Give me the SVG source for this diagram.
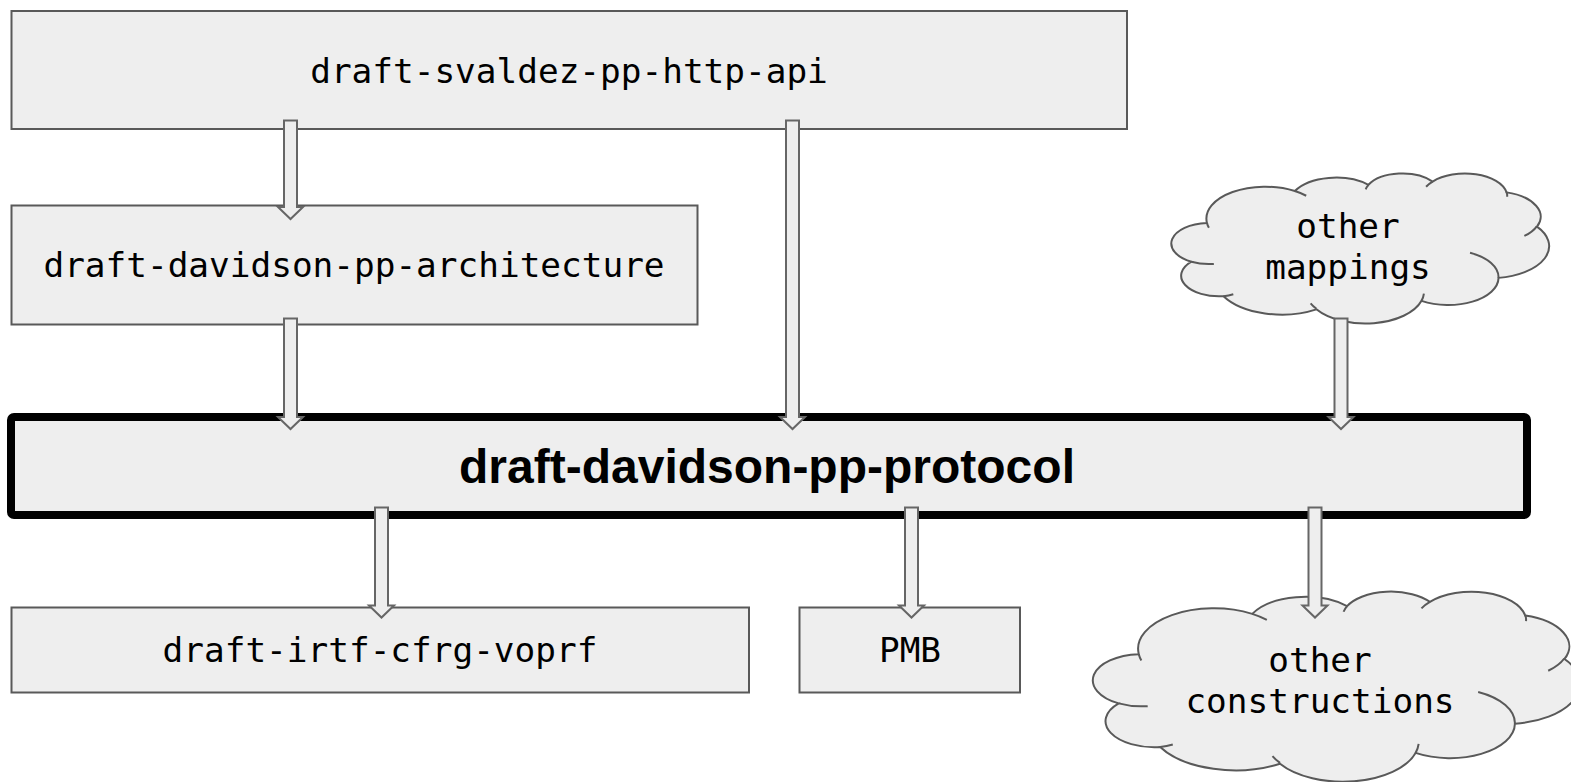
<svg xmlns="http://www.w3.org/2000/svg" xmlns:xlink="http://www.w3.org/1999/xlink" width="1571" height="782" viewBox="0 0 1571 782">
  <style>
    .box { fill: #eeeeee; stroke: #595959; stroke-width: 2; }
    .main { fill: #eeeeee; stroke: #000000; stroke-width: 8; }
    .mono { font-family: "DejaVu Sans Mono", "Liberation Mono", monospace; font-size: 34.4px; fill: #000000; text-anchor: middle; }
    .bold { font-family: "Liberation Sans", Arial, sans-serif; font-weight: bold; font-size: 48px; fill: #000000; text-anchor: middle; }
    .cloud-fill { fill: #eeeeee; stroke: #595959; stroke-width: 2; }
    .cloud-line { fill: none; stroke: #595959; stroke-width: 2; }
    .arrow { fill: #eeeeee; stroke: #666666; stroke-width: 2; stroke-linejoin: miter; }
  </style>
  <defs>
    <!-- cloud outline in a 43200 x 43200 unit frame -->
    <path id="cloudOutline" vector-effect="non-scaling-stroke" d="M 3900 14370 A 6753 9190 0 0 1 14004 5203 A 5333 7267 0 0 1 22454 3433 A 4365 5945 0 0 1 29831 2483 A 4857 6595 0 0 1 38316 5577 A 5333 7273 0 0 1 41817 15461 A 6775 9220 0 0 1 37402 30204 A 5785 7867 0 0 1 28553 36814 A 6752 9215 0 0 1 16478 39267 A 7720 10543 0 0 1 5803 35476 A 4360 5918 0 0 1 2113 25555 A 4345 5945 0 0 1 3900 14370 Z"/>
    <!-- inner bump strokes -->
    <path id="cloudInner" vector-effect="non-scaling-stroke" d="M 4693 26177 A 4345 5945 0 0 1 2113 25555 M 6928 34899 A 4360 5918 0 0 1 5803 35476 M 16478 39090 A 6752 9215 0 0 1 15810 37526 M 28827 34751 A 6752 9215 0 0 1 28553 36814 M 34129 22954 A 5785 7867 0 0 1 37402 30204 M 41798 15354 A 5333 7273 0 0 1 40369 18136 M 38324 5426 A 4857 6595 0 0 1 38393 6843 M 29078 3952 A 4857 6595 0 0 1 29831 2483 M 22141 4720 A 4365 5945 0 0 1 22454 3433 M 14000 5192 A 6753 9190 0 0 1 15306 6552 M 4127 15789 A 6753 9190 0 0 1 3900 14370"/>
  </defs>

  <g id="node-http-api">
    <rect class="box" x="11.5" y="11" width="1115.5" height="118"/>
    <text class="mono" x="569" y="83">draft-svaldez-pp-http-api</text>
  </g>

  <g id="node-architecture">
    <rect class="box" x="11.5" y="205.5" width="686" height="119"/>
    <text class="mono" x="354" y="277">draft-davidson-pp-architecture</text>
  </g>

  <g id="node-mappings">
    <g transform="translate(1173,173) scale(0.0087037,0.0034722)">
      <use xlink:href="#cloudOutline" class="cloud-fill"/>
      <use xlink:href="#cloudInner" class="cloud-line"/>
    </g>
    <text class="mono" x="1348" y="238">other</text>
    <text class="mono" x="1348" y="279">mappings</text>
  </g>

  <g id="node-protocol">
    <rect class="main" x="11" y="417" width="1516" height="98" rx="3"/>
    <text class="bold" x="767" y="483">draft-davidson-pp-protocol</text>
  </g>

  <g id="node-voprf">
    <rect class="box" x="11.5" y="607.5" width="737.5" height="85"/>
    <text class="mono" x="380" y="662">draft-irtf-cfrg-voprf</text>
  </g>

  <g id="node-pmb">
    <rect class="box" x="799.5" y="607.5" width="220.5" height="85"/>
    <text class="mono" x="910" y="662">PMB</text>
  </g>

  <g id="node-constructions">
    <g transform="translate(1095,591) scale(0.0112269,0.0043981)">
      <use xlink:href="#cloudOutline" class="cloud-fill"/>
      <use xlink:href="#cloudInner" class="cloud-line"/>
    </g>
    <text class="mono" x="1320" y="672">other</text>
    <text class="mono" x="1320" y="713">constructions</text>
  </g>

  <g id="connectors">
    <path class="arrow" d="M 284 120.5 H 297 V 207 H 303 L 290.5 219 L 278 207 H 284 Z"/>
    <path class="arrow" d="M 284 318.5 H 297 V 417 H 303 L 290.5 429 L 278 417 H 284 Z"/>
    <path class="arrow" d="M 786 120.5 H 799 V 417 H 805 L 792.5 429 L 780 417 H 786 Z"/>
    <path class="arrow" d="M 1334.5 318.5 H 1347.5 V 417 H 1353.5 L 1341 429 L 1328.5 417 H 1334.5 Z"/>
    <path class="arrow" d="M 375 507.5 H 388 V 605.5 H 394 L 381.5 617.5 L 369 605.5 H 375 Z"/>
    <path class="arrow" d="M 905 507.5 H 918 V 605.5 H 924 L 911.5 617.5 L 899 605.5 H 905 Z"/>
    <path class="arrow" d="M 1308.5 507.5 H 1321.5 V 605.5 H 1327.5 L 1315 617.5 L 1302.5 605.5 H 1308.5 Z"/>
  </g>
</svg>
